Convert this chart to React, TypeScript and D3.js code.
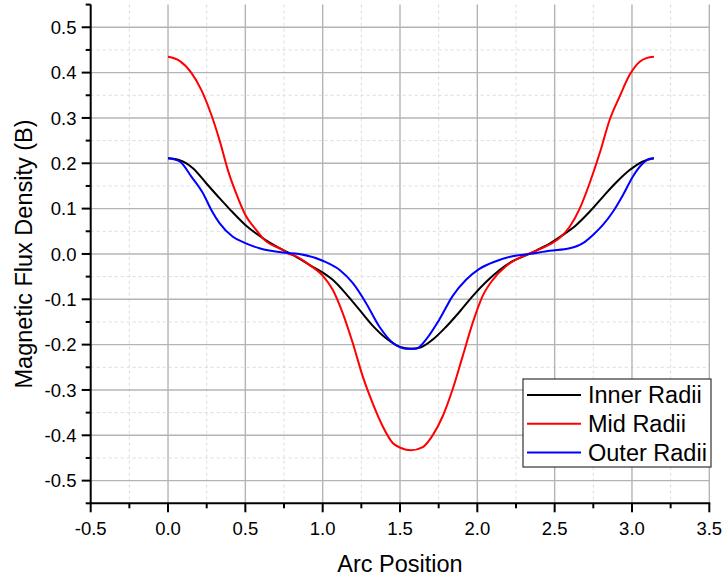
import React from "react";
import * as d3 from "d3";

const innerData: [number, number][] = [
  [0, 0.211], [0.075, 0.207], [0.161, 0.189], [0.247, 0.156], [0.333, 0.123], [0.398, 0.099],
  [0.5, 0.064], [0.57, 0.045], [0.634, 0.03], [0.742, 0.009], [0.806, -0.002], [0.914, -0.024],
  [1.0, -0.041], [1.065, -0.057], [1.151, -0.088], [1.237, -0.123], [1.323, -0.158], [1.41, -0.186],
  [1.5, -0.205], [1.571, -0.209], [1.625, -0.207], [1.711, -0.189], [1.797, -0.161], [1.884, -0.128],
  [1.97, -0.093], [2.056, -0.062], [2.142, -0.036], [2.228, -0.016], [2.336, 0], [2.4, 0.011],
  [2.468, 0.023], [2.554, 0.042], [2.64, 0.064], [2.726, 0.093], [2.812, 0.126], [2.899, 0.158],
  [2.985, 0.185], [3.071, 0.204], [3.142, 0.211],
];

const midData: [number, number][] = [
  [0, 0.435], [0.075, 0.426], [0.15, 0.4], [0.215, 0.362], [0.28, 0.307], [0.333, 0.251],
  [0.387, 0.185], [0.44, 0.134], [0.5, 0.086], [0.57, 0.053], [0.624, 0.031], [0.742, 0.009],
  [0.784, 0], [0.806, -0.002], [0.914, -0.024], [1.0, -0.048], [1.065, -0.079], [1.129, -0.13],
  [1.194, -0.196], [1.259, -0.27], [1.323, -0.329], [1.388, -0.38], [1.453, -0.417], [1.506, -0.428],
  [1.571, -0.433], [1.647, -0.426], [1.713, -0.399], [1.776, -0.358], [1.84, -0.299], [1.905, -0.226],
  [1.97, -0.152], [2.034, -0.093], [2.1, -0.057], [2.185, -0.027], [2.27, -0.009], [2.336, 0.001],
  [2.4, 0.01], [2.468, 0.021], [2.532, 0.035], [2.597, 0.06], [2.662, 0.1], [2.726, 0.156],
  [2.791, 0.222], [2.856, 0.296], [2.92, 0.347], [2.985, 0.395], [3.05, 0.424], [3.093, 0.432],
  [3.142, 0.435],
];

const outerData: [number, number][] = [
  [0, 0.211], [0.075, 0.204], [0.15, 0.171], [0.226, 0.134], [0.28, 0.097], [0.333, 0.068],
  [0.419, 0.038], [0.5, 0.024], [0.591, 0.0125], [0.742, 0.003], [0.849, 0], [1.0, -0.015],
  [1.108, -0.035], [1.194, -0.064], [1.28, -0.108], [1.366, -0.16], [1.453, -0.196], [1.539, -0.209],
  [1.603, -0.209], [1.668, -0.189], [1.754, -0.145], [1.84, -0.093], [1.927, -0.057], [2.013, -0.033],
  [2.12, -0.016], [2.228, -0.005], [2.336, 0], [2.468, 0.007], [2.597, 0.0125], [2.683, 0.024],
  [2.748, 0.042], [2.812, 0.064], [2.877, 0.093], [2.942, 0.13], [3.006, 0.171], [3.071, 0.2],
  [3.114, 0.21], [3.142, 0.211],
];

const seriesNames = ["Inner Radii", "Mid Radii", "Outer Radii"];
const seriesColors = ["#000000", "#ff0000", "#0000ff"];
const xMajorTicks = [-0.5, 0, 0.5, 1, 1.5, 2, 2.5, 3, 3.5];
const yMajorTicks = [-0.5, -0.4, -0.3, -0.2, -0.1, 0, 0.1, 0.2, 0.3, 0.4, 0.5];
const xMinorTicks = [-0.25, 0.25, 0.75, 1.25, 1.75, 2.25, 2.75, 3.25];
const yMinorTicks = [-0.55, -0.45, -0.35, -0.25, -0.15, -0.05, 0.05, 0.15, 0.25, 0.35, 0.45, 0.55];

const FONT = "'Liberation Sans', Arial, sans-serif";

export default function App() {
  const left = 90.7, right = 709.3, top = 4.6, bottom = 503.3;
  const x = d3.scaleLinear().domain([-0.5, 3.5]).range([left, right]);
  const y = d3.scaleLinear().domain([-0.55, 0.55]).range([bottom, top]);
  const line = d3
    .line<[number, number]>()
    .x((d) => x(d[0]))
    .y((d) => y(d[1]))
    .curve(d3.curveMonotoneX);
  const all = [innerData, midData, outerData];
  const f1 = d3.format(".1f");
  const fmt = (v: number) => f1(v).replace("\u2212", "-");

  return (
    <svg
      width={724}
      height={579}
      style={{ position: "absolute", left: 0, top: 0, background: "#fff" }}
      fontFamily={FONT}
    >
      <rect x={0} y={0} width={724} height={579} fill="#fff" />
      {/* minor grid */}
      {xMinorTicks.map((t) => (
        <line key={"xm" + t} x1={x(t)} x2={x(t)} y1={top} y2={bottom} stroke="#dcdcdc" strokeWidth={1} strokeDasharray="3,3" />
      ))}
      {yMinorTicks.filter((t) => Math.abs(t) < 0.54).map((t) => (
        <line key={"ym" + t} x1={left} x2={right} y1={y(t)} y2={y(t)} stroke="#dcdcdc" strokeWidth={1} strokeDasharray="3,3" />
      ))}
      {/* major grid */}
      {xMajorTicks.filter((t) => t > -0.5).map((t) => (
        <line key={"xg" + t} x1={x(t)} x2={x(t)} y1={top} y2={bottom} stroke="#b4b4b4" strokeWidth={1.4} />
      ))}
      {yMajorTicks.map((t) => (
        <line key={"yg" + t} x1={left} x2={right} y1={y(t)} y2={y(t)} stroke="#b4b4b4" strokeWidth={1.4} />
      ))}
      {/* data */}
      {all.map((d, i) => (
        <path key={"s" + i} d={line(d) || ""} fill="none" stroke={seriesColors[i]} strokeWidth={2} strokeLinejoin="round" />
      ))}
      {/* axes */}
      <line x1={left} x2={left} y1={top} y2={bottom + 1} stroke="#000" strokeWidth={2} />
      <line x1={left - 1} x2={right + 1} y1={bottom} y2={bottom} stroke="#000" strokeWidth={2} />
      {xMajorTicks.map((t) => (
        <g key={"xt" + t}>
          <line x1={x(t)} x2={x(t)} y1={bottom} y2={bottom + 9} stroke="#000" strokeWidth={2} />
          <text x={x(t)} y={534.5} fontSize={18.5} textAnchor="middle" fill="#000">
            {fmt(t)}
          </text>
        </g>
      ))}
      {xMinorTicks.map((t) => (
        <line key={"xmt" + t} x1={x(t)} x2={x(t)} y1={bottom} y2={bottom + 5} stroke="#000" strokeWidth={2} />
      ))}
      {yMajorTicks.map((t) => (
        <g key={"yt" + t}>
          <line x1={left - 9} x2={left} y1={y(t)} y2={y(t)} stroke="#000" strokeWidth={2} />
          <text x={76.5} y={y(t) + 6.6} fontSize={18.5} textAnchor="end" fill="#000">
            {fmt(t)}
          </text>
        </g>
      ))}
      {yMinorTicks.map((t) => (
        <line key={"ymt" + t} x1={left - 5} x2={left} y1={y(t)} y2={y(t)} stroke="#000" strokeWidth={2} />
      ))}
      {/* titles */}
      <text x={400} y={571.5} fontSize={23.5} textAnchor="middle" fill="#000">
        Arc Position
      </text>
      <text
        transform={`translate(31.5, ${y(0)}) rotate(-90)`}
        fontSize={23.5}
        textAnchor="middle"
        fill="#000"
      >
        Magnetic Flux Density (B)
      </text>
      {/* legend */}
      <rect x={523} y={379} width={188} height={88} fill="#fff" stroke="#333" strokeWidth={1.2} />
      {seriesNames.map((n, i) => {
        const ly = 395 + i * 28.7;
        return (
          <g key={"lg" + i}>
            <line x1={527} x2={581} y1={ly} y2={ly} stroke={seriesColors[i]} strokeWidth={2} />
            <text x={588} y={ly + 8.4} fontSize={23.5} fill="#000">
              {n}
            </text>
          </g>
        );
      })}
    </svg>
  );
}
